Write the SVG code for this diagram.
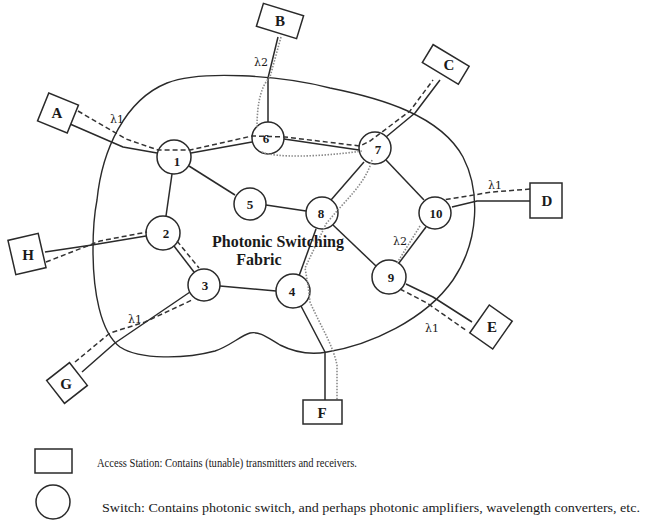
<svg xmlns="http://www.w3.org/2000/svg" width="649" height="520" viewBox="0 0 649 520">
  <style>
    .bg { fill: #ffffff; }
    .fabric { fill: none; stroke: #2a2a2a; stroke-width: 1.4; }
    .link { fill: none; stroke: #2a2a2a; stroke-width: 1.5; stroke-linejoin: round; }
    .l1 { fill: none; stroke: #333333; stroke-width: 1.5; stroke-dasharray: 5 3; }
    .l2 { fill: none; stroke: #8a8a8a; stroke-width: 1.6; stroke-dasharray: 1.5 1.5; }
    .sw { fill: #ffffff; stroke: #2a2a2a; stroke-width: 1.5; }
    .st { fill: #ffffff; stroke: #2a2a2a; stroke-width: 1.5; }
    .num { font-family: "Liberation Serif", "DejaVu Serif", serif; font-weight: bold; font-size: 13px; fill: #1a1a1a; text-anchor: middle; }
    .stl { font-family: "Liberation Serif", "DejaVu Serif", serif; font-weight: bold; font-size: 15px; fill: #1a1a1a; text-anchor: middle; }
    .lam { font-family: "DejaVu Serif", "Liberation Serif", serif; font-size: 11px; fill: #1a1a1a; }
    .title { font-family: "Liberation Serif", "DejaVu Serif", serif; font-weight: bold; font-size: 16px; fill: #1a1a1a; text-anchor: middle; }
    .legend { font-family: "Liberation Serif", "DejaVu Serif", serif; font-size: 11.5px; fill: #1a1a1a; }
  </style>

  <rect class="bg" x="0" y="0" width="649" height="520"/>

  <!-- fabric outline -->
  <path id="fabric" class="fabric" d="M 97,200 C 102,150 125,100 167,83 C 200,70 280,75 330,88 C 380,98 440,115 463,157 C 480,190 480,240 453,280 C 425,320 370,345 327,352 C 305,356 290,350 280,345 C 268,338 260,331 250,333 C 240,336 230,346 215,351 C 185,359 140,360 120,347 C 100,332 93,290 93,250 C 93,230 94,215 97,200 Z"/>

  <!-- fibre links -->
  <g id="connectors">
    <path class="link" d="M 70,124 L 123,147 L 157,153"/>
    <path class="link" d="M 278,37 L 268,78 L 268,122"/>
    <path class="link" d="M 440,80 L 415,113 L 386,137"/>
    <path class="link" d="M 530,201 L 477,201 L 452,207"/>
    <path class="link" d="M 472,322 L 433,297 L 406,284"/>
    <path class="link" d="M 325,400 L 325,352 L 301,306"/>
    <path class="link" d="M 82,372 L 115,343 L 190,292"/>
    <path class="link" d="M 45,252 L 92,245 L 146,236"/>
    <path class="link" d="M 191,153 L 252,142"/>
    <path class="link" d="M 189,166 L 235,195"/>
    <path class="link" d="M 172,174 L 166,216"/>
    <path class="link" d="M 174,246 L 194,272"/>
    <path class="link" d="M 220,286 L 276,291"/>
    <path class="link" d="M 266,205 L 306,211"/>
    <path class="link" d="M 299,276 L 316,229"/>
    <path class="link" d="M 331,200 L 364,162"/>
    <path class="link" d="M 284,139 L 359,150"/>
    <path class="link" d="M 386,160 L 424,200"/>
    <path class="link" d="M 333,225 L 376,266"/>
    <path class="link" d="M 426,227 L 399,263"/>
  </g>

  <!-- switches -->
  <g id="sw1"><circle class="sw" cx="174" cy="157" r="17"/><text class="num" x="177" y="166">1</text></g>
  <g id="sw2"><circle class="sw" cx="163" cy="233" r="17"/><text class="num" x="166" y="238">2</text></g>
  <g id="sw3"><circle class="sw" cx="204" cy="285" r="16"/><text class="num" x="205" y="290">3</text></g>
  <g id="sw4"><circle class="sw" cx="293" cy="291" r="17"/><text class="num" x="292" y="296">4</text></g>
  <g id="sw5"><circle class="sw" cx="250" cy="204" r="16"/><text class="num" x="250" y="209">5</text></g>
  <g id="sw6"><circle class="sw" cx="268" cy="138" r="16"/><text class="num" x="266" y="143">6</text></g>
  <g id="sw7"><circle class="sw" cx="375" cy="148" r="16"/><text class="num" x="378" y="154">7</text></g>
  <g id="sw8"><circle class="sw" cx="322" cy="213" r="16"/><text class="num" x="321" y="218">8</text></g>
  <g id="sw9"><circle class="sw" cx="389" cy="277" r="17"/><text class="num" x="391" y="282">9</text></g>
  <g id="sw10"><circle class="sw" cx="435" cy="213" r="16"/><text class="num" x="436" y="218">10</text></g>

  <!-- lightpaths -->
  <g id="lightpaths">
    <!-- lambda 1 -->
    <path class="l1" d="M 78,111 L 126,139 L 158,150 L 190,150 L 252,136 L 285,137 L 360,146 L 370,141 L 410,111 L 433,80"/>
    <path class="l1" d="M 46,262 L 100,241 L 147,232"/>
    <path class="l1" d="M 177,241 L 199,268"/>
    <path class="l1" d="M 75,362 L 110,333 L 145,322 L 192,300"/>
    <path class="l1" d="M 530,189 L 492,192 L 443,200"/>
    <path class="l1" d="M 400,289 L 427,303 L 467,331"/>
    <!-- lambda 2 -->
    <path class="l2" d="M 281,37 L 270,77 C 262,85 257,100 257,128"/>
    <path class="l2" d="M 262,152 C 275,158 320,157 362,151"/>
    <path class="l2" d="M 372,160 C 365,185 345,200 326,224 L 305,268 L 308,285 L 310,302 C 320,325 333,345 337,365 L 337,400"/>
    <path class="l2" d="M 420,226 L 397,263"/>
  </g>

  <!-- wavelength labels -->
  <text class="lam" x="110" y="123">λ1</text>
  <text class="lam" x="254" y="66">λ2</text>
  <text class="lam" x="488" y="189">λ1</text>
  <text class="lam" x="393" y="245">λ2</text>
  <text class="lam" x="425" y="332">λ1</text>
  <text class="lam" x="128" y="323">λ1</text>

  <!-- access stations -->
  <g id="stA"><rect class="st" x="-16" y="-15" width="32" height="30" transform="translate(58,113) rotate(22)"/><text class="stl" x="57" y="118">A</text></g>
  <g id="stB"><rect class="st" x="-21" y="-12" width="42" height="24" transform="translate(280,21) rotate(17)"/><text class="stl" x="280" y="26">B</text></g>
  <g id="stC"><rect class="st" x="-21" y="-10" width="42" height="21" transform="translate(446,64) rotate(31)"/><text class="stl" x="449" y="70">C</text></g>
  <g id="stD"><rect class="st" x="530" y="183" width="32" height="35"/><text class="stl" x="547" y="206">D</text></g>
  <g id="stE"><rect class="st" x="-14" y="-17" width="28" height="34" transform="translate(491,327) rotate(35)"/><text class="stl" x="492" y="332">E</text></g>
  <g id="stF"><rect class="st" x="303" y="400" width="39" height="24"/><text class="stl" x="322" y="418">F</text></g>
  <g id="stG"><rect class="st" x="-14.5" y="-14.5" width="29" height="29" transform="translate(67,383) rotate(-38)"/><text class="stl" x="66" y="389">G</text></g>
  <g id="stH"><rect class="st" x="-15.5" y="-17.5" width="31" height="35" transform="translate(27,254) rotate(-13)"/><text class="stl" x="28" y="260">H</text></g>

  <!-- fabric caption -->
  <text class="title" x="278" y="247">Photonic Switching</text>
  <text class="title" x="259" y="265">Fabric</text>

  <!-- legend -->
  <g id="legend">
    <rect class="st" x="35" y="449" width="37" height="24"/>
    <text class="legend" x="97" y="467" textLength="260" lengthAdjust="spacingAndGlyphs">Access Station: Contains (tunable) transmitters and receivers.</text>
    <circle class="sw" cx="53" cy="502" r="17"/>
    <text class="legend" x="102" y="512" textLength="538" lengthAdjust="spacingAndGlyphs">Switch: Contains photonic switch, and perhaps photonic amplifiers, wavelength converters, etc.</text>
  </g>
</svg>
